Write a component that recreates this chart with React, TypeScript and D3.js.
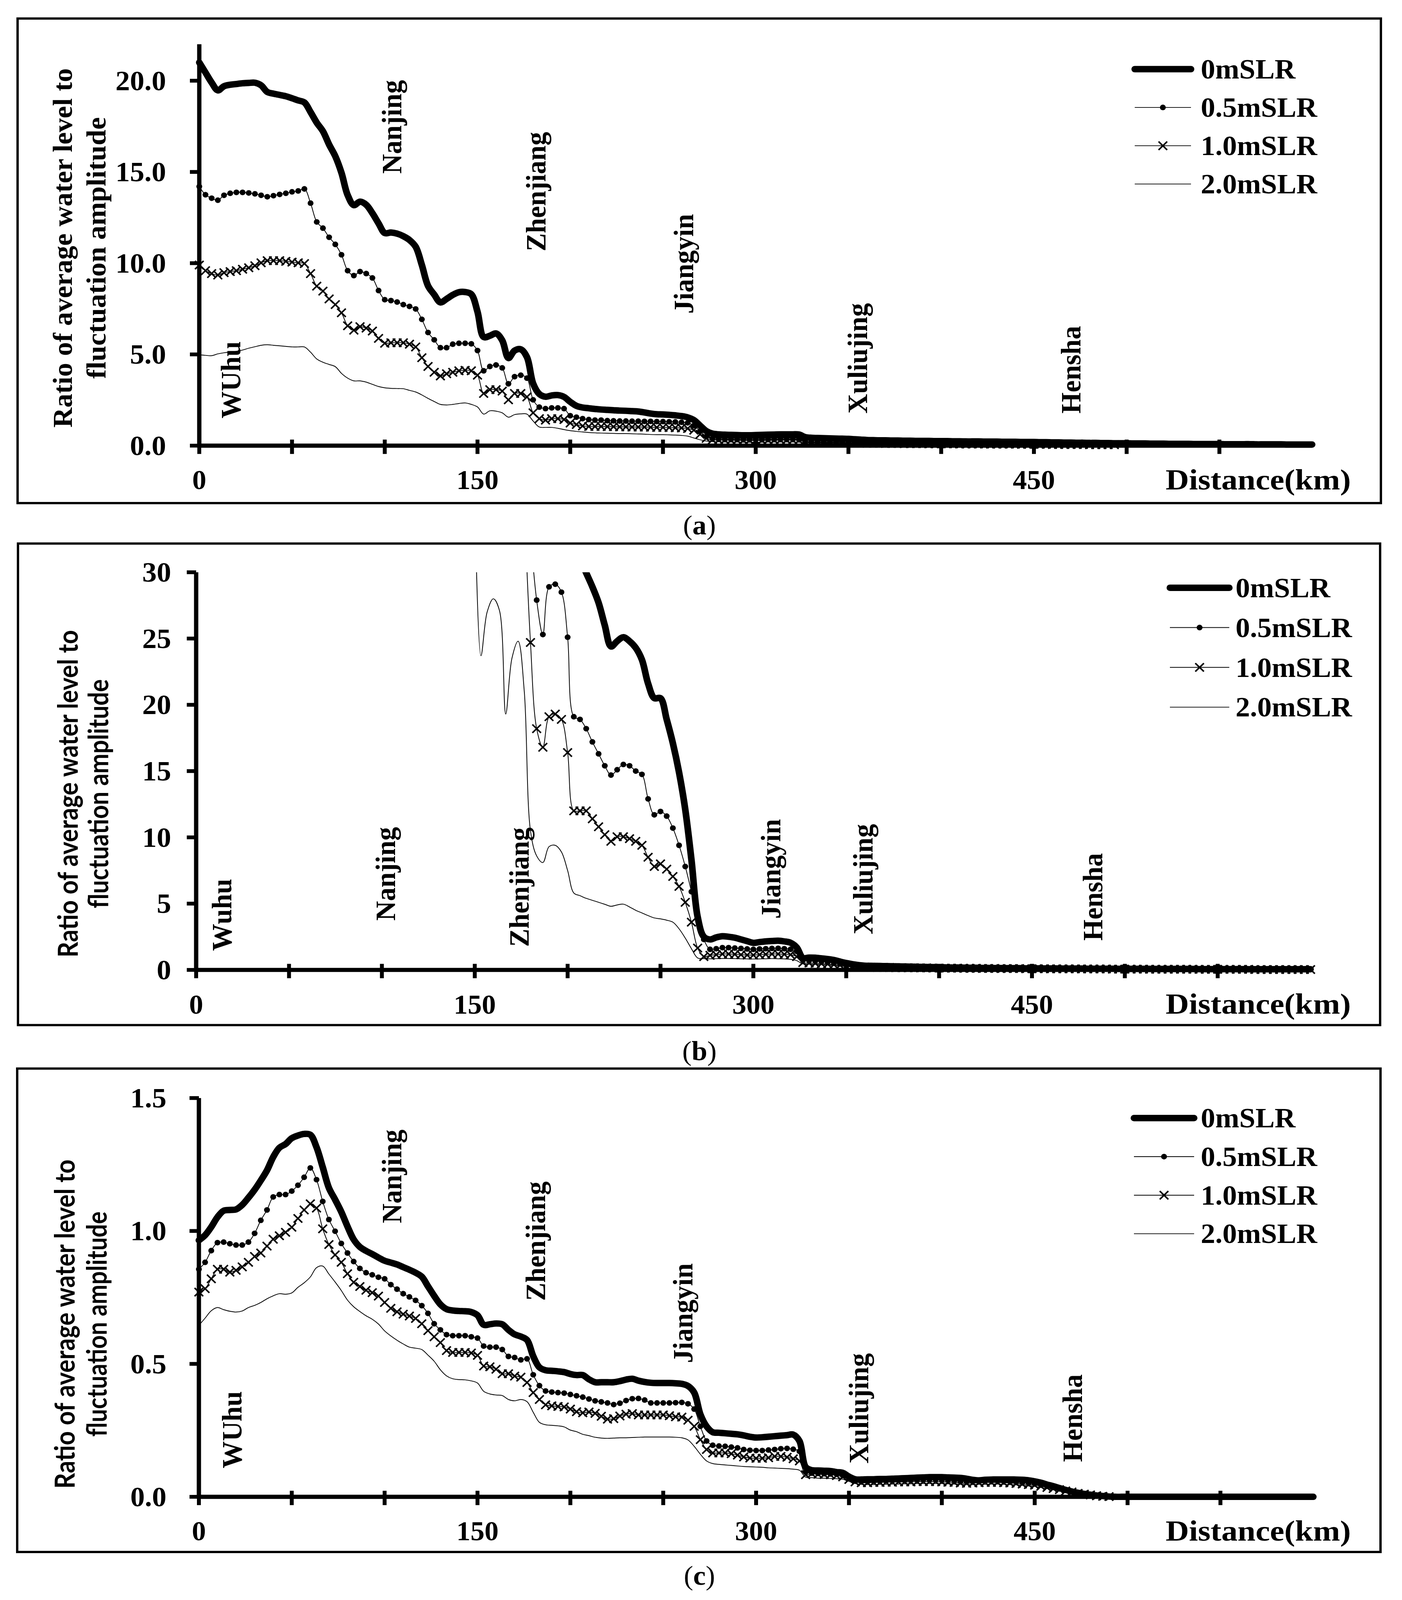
import React from 'react';
import * as d3 from 'd3';

// Distance grid along the river: one model point every 10/3 km, 0..600 km
const KM_STEP = 10 / 3;
const distances = d3.range(0, 181).map((i) => i * KM_STEP);

const seriesNames = ['0mSLR', '0.5mSLR', '1.0mSLR', '2.0mSLR'];
const xTickValues = [0, 50, 100, 150, 200, 250, 300, 350, 400, 450, 500, 550];
const xTickLabels = [0, 150, 300, 450];

// ---------- panel (a) ----------
const a0 = [
  21.0, 20.45, 19.9, 19.47, 19.7, 19.78, 19.82, 19.86, 19.88, 19.89,
  19.75, 19.38, 19.29, 19.22, 19.15, 19.04, 18.92, 18.81, 18.28, 17.7,
  17.23, 16.5, 15.86, 14.95, 13.73, 13.18, 13.37, 13.2, 12.74, 12.18,
  11.65, 11.68, 11.62, 11.48, 11.27, 10.9, 9.9, 8.76, 8.28, 7.85,
  8.04, 8.26, 8.41, 8.42, 8.3, 7.34, 5.95, 6.02, 6.15, 5.77,
  4.8, 5.21, 5.28, 4.85, 3.4, 2.83, 2.68, 2.75, 2.77, 2.67,
  2.4, 2.18, 2.09, 2.05, 2.01, 1.98, 1.96, 1.94, 1.92, 1.91,
  1.89, 1.87, 1.82, 1.76, 1.72, 1.71, 1.69, 1.66, 1.62, 1.55,
  1.4, 1.1, 0.8, 0.66, 0.62, 0.6, 0.59, 0.58, 0.57, 0.57,
  0.58, 0.59, 0.6, 0.61, 0.62, 0.62, 0.62, 0.61, 0.47, 0.43,
  0.42, 0.41, 0.4, 0.39, 0.38, 0.37, 0.35, 0.33, 0.31, 0.3,
  0.29, 0.29, 0.28, 0.28, 0.27, 0.27, 0.26, 0.26, 0.26, 0.25,
  0.25, 0.25, 0.24, 0.24, 0.23, 0.23, 0.23, 0.22, 0.22, 0.22,
  0.21, 0.21, 0.21, 0.2, 0.2, 0.2, 0.19, 0.19, 0.18, 0.18,
  0.17, 0.17, 0.16, 0.16, 0.15, 0.15, 0.14, 0.14, 0.13, 0.13,
  0.13, 0.12, 0.12, 0.12, 0.11, 0.11, 0.11, 0.1, 0.1, 0.1,
  0.1, 0.09, 0.09, 0.09, 0.09, 0.09, 0.08, 0.08, 0.08, 0.08,
  0.08, 0.07, 0.07, 0.07, 0.07, 0.07, 0.06, 0.06, 0.06, 0.06, 0.06,
];
const a05 = [
  14.2, 13.75, 13.56, 13.45, 13.72, 13.83, 13.88, 13.88, 13.85, 13.8,
  13.72, 13.64, 13.7, 13.77, 13.83, 13.91, 13.96, 14.07, 13.29, 12.26,
  11.92, 11.42, 11.03, 10.46, 9.59, 9.32, 9.54, 9.43, 9.19, 8.5,
  8.0, 7.95, 7.87, 7.73, 7.63, 7.49, 6.92, 6.2, 5.8, 5.37,
  5.37, 5.56, 5.61, 5.61, 5.58, 5.21, 4.1, 4.34, 4.42, 4.26,
  3.39, 3.78, 3.86, 3.7, 2.51, 2.11, 2.03, 2.07, 2.07, 2.03,
  1.64, 1.56, 1.48, 1.43, 1.4, 1.4, 1.37, 1.36, 1.35, 1.35,
  1.34, 1.34, 1.33, 1.33, 1.32, 1.32, 1.31, 1.3, 1.28, 1.25,
  1.1, 0.8, 0.5, 0.38, 0.36, 0.35, 0.35, 0.34, 0.34, 0.33,
  0.33, 0.33, 0.34, 0.34, 0.35, 0.35, 0.35, 0.34, 0.25, 0.21,
  0.2, 0.2, 0.19, 0.19, 0.18, 0.17, 0.16, 0.15, 0.15, 0.14,
  0.14, 0.14, 0.13, 0.13, 0.13, 0.12, 0.12, 0.12, 0.12, 0.11,
  0.11, 0.11, 0.11, 0.1, 0.1, 0.1, 0.1, 0.1, 0.09, 0.09,
  0.09, 0.09, 0.09, 0.08, 0.08, 0.08, 0.08, 0.08, 0.07, 0.07,
  0.07, 0.07, 0.07, 0.07, 0.06, 0.06, 0.06, 0.06, 0.06,
];
const a10 = [
  9.9, 9.59, 9.43, 9.35, 9.48, 9.54, 9.59, 9.67, 9.75, 9.86,
  10.02, 10.14, 10.14, 10.14, 10.1, 10.06, 10.02, 9.98, 9.43, 8.74,
  8.47, 8.04, 7.73, 7.28, 6.57, 6.33, 6.52, 6.44, 6.28, 5.88,
  5.61, 5.64, 5.64, 5.64, 5.56, 5.41, 4.82, 4.34, 4.02, 3.82,
  3.94, 4.02, 4.1, 4.13, 4.1, 3.86, 2.86, 3.07, 3.07, 2.99,
  2.51, 2.86, 2.86, 2.67, 1.8, 1.48, 1.4, 1.48, 1.48, 1.43,
  1.24, 1.16, 1.08, 1.05, 1.05, 1.05, 1.04, 1.04, 1.03, 1.03,
  1.02, 1.02, 1.02, 1.01, 1.0, 1.0, 0.99, 0.98, 0.97, 0.94,
  0.85, 0.62, 0.4, 0.32, 0.3, 0.3, 0.29, 0.29, 0.28, 0.28,
  0.28, 0.28, 0.29, 0.29, 0.3, 0.3, 0.3, 0.29, 0.2, 0.18,
  0.17, 0.17, 0.16, 0.16, 0.15, 0.15, 0.14, 0.14, 0.13, 0.13,
  0.13, 0.12, 0.12, 0.12, 0.11, 0.11, 0.11, 0.11, 0.1, 0.1,
  0.1, 0.1, 0.1, 0.09, 0.09, 0.09, 0.09, 0.09, 0.08, 0.08,
  0.08, 0.08, 0.08, 0.07, 0.07, 0.07, 0.07, 0.07, 0.06, 0.06,
  0.06, 0.06, 0.06, 0.06, 0.05, 0.05, 0.05, 0.05, 0.05,
];
const a20 = [
  4.98, 4.95, 4.93, 5.03, 5.09, 5.13, 5.17, 5.24, 5.34, 5.42,
  5.5, 5.53, 5.5, 5.47, 5.44, 5.41, 5.41, 5.41, 5.12, 4.75,
  4.57, 4.45, 4.33, 3.96, 3.7, 3.55, 3.55, 3.48, 3.36, 3.24,
  3.17, 3.14, 3.13, 3.12, 3.03, 2.94, 2.78, 2.59, 2.42, 2.26,
  2.23, 2.26, 2.31, 2.34, 2.26, 2.12, 1.73, 1.91, 1.89, 1.8,
  1.56, 1.7, 1.74, 1.73, 1.35, 1.02, 1.0, 1.0, 0.95, 0.88,
  0.82, 0.78, 0.75, 0.72, 0.7, 0.69, 0.68, 0.67, 0.66, 0.66,
  0.65, 0.64, 0.63, 0.61, 0.6, 0.6, 0.59, 0.58, 0.56, 0.52,
  0.42, 0.32, 0.25, 0.22, 0.21, 0.2, 0.2, 0.2, 0.19, 0.19,
  0.19, 0.19, 0.2, 0.2, 0.2, 0.2, 0.2, 0.19, 0.15, 0.13,
  0.13, 0.13, 0.12, 0.12, 0.12, 0.12, 0.11, 0.11, 0.11, 0.11,
  0.11, 0.1, 0.1, 0.1, 0.1, 0.1, 0.09, 0.09, 0.09, 0.09,
  0.09, 0.08, 0.08, 0.08, 0.08, 0.08, 0.07, 0.07, 0.07, 0.07,
  0.07, 0.06, 0.06, 0.06, 0.06, 0.06, 0.05, 0.05, 0.05, 0.05,
  0.05, 0.05, 0.04, 0.04, 0.04, 0.04, 0.04, 0.04, 0.04,
];

// ---------- panel (b) ----------  (values above 30 leave the plot at the top)
const b0From = 62;
const b0 = [
  31.0, 29.95, 28.9, 27.7, 26.0, 24.4, 24.8, 25.1,
  24.8, 24.3, 23.4, 21.6, 20.5, 20.5, 18.9, 17.1, 14.9, 12.1,
  8.3, 4.0, 2.5, 2.3, 2.45, 2.54, 2.5, 2.43, 2.3, 2.17,
  2.04, 2.1, 2.15, 2.18, 2.2, 2.15, 2.05, 1.7, 0.9, 0.93,
  0.92, 0.87, 0.82, 0.75, 0.63, 0.52, 0.43, 0.36, 0.32, 0.31,
  0.3, 0.29, 0.28, 0.27, 0.26, 0.25, 0.24, 0.23, 0.22, 0.21,
  0.2, 0.19, 0.18, 0.18, 0.17, 0.16, 0.16, 0.15, 0.15, 0.14,
  0.14, 0.13, 0.13, 0.13, 0.12, 0.12, 0.12, 0.11, 0.11, 0.11,
  0.1, 0.1, 0.1, 0.1, 0.09, 0.09, 0.09, 0.09, 0.09, 0.08,
  0.08, 0.08, 0.08, 0.08, 0.08, 0.07, 0.07, 0.07, 0.07, 0.07,
  0.07, 0.07, 0.06, 0.06, 0.06, 0.06, 0.06, 0.06, 0.06, 0.06,
  0.05, 0.05, 0.05, 0.05, 0.05, 0.05, 0.05, 0.05, 0.05, 0.05, 0.05,
];
const b05From = 54;
const b05 = [
  33.0, 27.9, 25.3, 28.9, 29.1, 28.5,
  25.1, 19.1, 18.9, 18.2, 17.2, 16.3, 15.4, 14.7, 15.1, 15.5,
  15.4, 15.0, 14.75, 12.9, 11.7, 11.95, 11.6, 10.7, 9.4, 7.8,
  5.9, 3.9, 2.3, 1.55, 1.6, 1.68, 1.68, 1.65, 1.62, 1.58,
  1.55, 1.58, 1.6, 1.62, 1.63, 1.6, 1.55, 1.4, 0.72, 0.7,
  0.68, 0.63, 0.58, 0.53, 0.46, 0.38, 0.32, 0.28, 0.26, 0.25,
  0.24, 0.23, 0.22, 0.21, 0.2, 0.19, 0.19, 0.18, 0.17, 0.17,
  0.16, 0.16, 0.15, 0.15, 0.14, 0.14, 0.13, 0.13, 0.13, 0.12,
  0.12, 0.12, 0.11, 0.11, 0.11, 0.1, 0.1, 0.1, 0.1, 0.09,
  0.09, 0.09, 0.09, 0.08, 0.08, 0.08, 0.08, 0.08, 0.07, 0.07,
  0.07, 0.07, 0.07, 0.07, 0.06, 0.06, 0.06, 0.06, 0.06, 0.06,
  0.06, 0.05, 0.05, 0.05, 0.05, 0.05, 0.05, 0.05, 0.05, 0.05,
  0.04, 0.04, 0.04, 0.04, 0.04, 0.04, 0.04, 0.04, 0.04, 0.04, 0.04,
];
const b10From = 53;
const b10 = [
  35.0, 24.7, 18.2, 16.8, 19.1, 19.3, 18.9,
  16.4, 12.0, 12.0, 12.0, 11.4, 10.8, 10.2, 9.7, 10.05, 10.05,
  9.9, 9.7, 9.4, 8.5, 7.8, 8.0, 7.6, 7.05, 6.3, 5.1,
  3.6, 1.65, 1.0, 1.1, 1.15, 1.2, 1.2, 1.18, 1.15, 1.12,
  1.12, 1.15, 1.18, 1.2, 1.2, 1.18, 1.15, 1.0, 0.55, 0.52,
  0.5, 0.47, 0.44, 0.4, 0.35, 0.3, 0.25, 0.22, 0.21, 0.2,
  0.19, 0.19, 0.18, 0.17, 0.17, 0.16, 0.16, 0.15, 0.15, 0.14,
  0.14, 0.13, 0.13, 0.13, 0.12, 0.12, 0.12, 0.11, 0.11, 0.11,
  0.1, 0.1, 0.1, 0.1, 0.09, 0.09, 0.09, 0.09, 0.08, 0.08,
  0.08, 0.08, 0.08, 0.07, 0.07, 0.07, 0.07, 0.07, 0.06, 0.06,
  0.06, 0.06, 0.06, 0.06, 0.05, 0.05, 0.05, 0.05, 0.05, 0.05,
  0.05, 0.05, 0.04, 0.04, 0.04, 0.04, 0.04, 0.04, 0.04, 0.04,
  0.04, 0.03, 0.03, 0.03, 0.03, 0.03, 0.03, 0.03, 0.03, 0.03, 0.03,
];
const b20From = 45;
const b20 = [
  36.0, 23.7, 27.0, 28.0, 27.1,
  19.3, 23.5, 24.8, 21.0, 10.5, 8.6, 8.1, 9.3, 9.4, 8.9,
  7.5, 5.8, 5.6, 5.4, 5.25, 5.1, 4.95, 4.8, 4.9, 4.96,
  4.75, 4.5, 4.3, 4.1, 3.92, 3.85, 3.75, 3.6, 3.1, 2.4,
  1.6, 0.9, 0.85, 0.84, 0.85, 0.86, 0.86, 0.85, 0.84, 0.83,
  0.82, 0.83, 0.84, 0.85, 0.84, 0.83, 0.8, 0.7, 0.45, 0.43,
  0.42, 0.4, 0.37, 0.33, 0.29, 0.25, 0.23, 0.22, 0.21, 0.2,
  0.19, 0.18, 0.18, 0.17, 0.16, 0.16, 0.15, 0.15, 0.14, 0.14,
  0.13, 0.13, 0.12, 0.12, 0.12, 0.11, 0.11, 0.11, 0.1, 0.1,
  0.1, 0.09, 0.09, 0.09, 0.09, 0.08, 0.08, 0.08, 0.08, 0.07,
  0.07, 0.07, 0.07, 0.07, 0.06, 0.06, 0.06, 0.06, 0.06, 0.05,
  0.05, 0.05, 0.05, 0.05, 0.05, 0.05, 0.04, 0.04, 0.04, 0.04,
  0.04, 0.04, 0.04, 0.04, 0.04, 0.03, 0.03, 0.03, 0.03, 0.03,
  0.03, 0.03, 0.03, 0.03, 0.03, 0.03, 0.03, 0.03, 0.03, 0.03, 0.03,
];

// ---------- panel (c) ----------
const c0 = [
  0.965, 0.984, 1.015, 1.052, 1.076, 1.079, 1.081, 1.098, 1.125, 1.155,
  1.19, 1.228, 1.278, 1.313, 1.327, 1.349, 1.359, 1.365, 1.362, 1.315,
  1.24, 1.162, 1.118, 1.072, 1.017, 0.968, 0.94, 0.925, 0.913, 0.9,
  0.888, 0.881, 0.874, 0.864, 0.854, 0.843, 0.828, 0.792, 0.756, 0.724,
  0.706, 0.701, 0.699, 0.698, 0.695, 0.683, 0.647, 0.649, 0.652, 0.649,
  0.628, 0.611, 0.603, 0.59, 0.529, 0.487, 0.476, 0.474, 0.472, 0.469,
  0.462, 0.458, 0.458, 0.442, 0.431, 0.431, 0.431, 0.431, 0.435, 0.441,
  0.444, 0.437, 0.432, 0.429, 0.428, 0.428, 0.428, 0.427, 0.425, 0.417,
  0.392, 0.31, 0.265, 0.243, 0.241, 0.239, 0.237, 0.235, 0.231, 0.226,
  0.223, 0.224, 0.226, 0.228, 0.23, 0.232, 0.234, 0.21, 0.112, 0.1,
  0.099, 0.098, 0.097, 0.093, 0.09, 0.076, 0.066, 0.065, 0.066, 0.066,
  0.067, 0.067, 0.068, 0.069, 0.07, 0.071, 0.072, 0.073, 0.074, 0.074,
  0.074, 0.073, 0.072, 0.071, 0.068, 0.064, 0.062, 0.064, 0.065, 0.065,
  0.065, 0.065, 0.065, 0.064, 0.062, 0.058, 0.053, 0.046, 0.04, 0.033,
  0.026, 0.02, 0.015, 0.011, 0.008, 0.005, 0.003, 0.001, 0, 0,
  0, 0, 0, 0, 0, 0, 0, 0, 0, 0,
  0, 0, 0, 0, 0, 0, 0, 0, 0, 0,
  0, 0, 0, 0, 0, 0, 0, 0, 0, 0, 0,
];
const c05 = [
  0.856, 0.882, 0.926, 0.956, 0.958, 0.952, 0.947, 0.947, 0.958, 0.991,
  1.04, 1.079, 1.128, 1.137, 1.137, 1.15, 1.172, 1.202, 1.237, 1.193,
  1.111, 1.043, 0.999, 0.953, 0.917, 0.885, 0.859, 0.843, 0.835, 0.826,
  0.82, 0.798, 0.781, 0.764, 0.752, 0.739, 0.719, 0.69, 0.651, 0.628,
  0.61, 0.606, 0.606, 0.606, 0.602, 0.597, 0.567, 0.563, 0.563, 0.554,
  0.528, 0.524, 0.515, 0.519, 0.459, 0.418, 0.398, 0.394, 0.392, 0.39,
  0.385, 0.38, 0.375, 0.368, 0.361, 0.357, 0.353, 0.347, 0.352, 0.362,
  0.369, 0.37, 0.364, 0.353, 0.353, 0.353, 0.353, 0.354, 0.355, 0.35,
  0.33, 0.265, 0.21, 0.194, 0.191, 0.19, 0.187, 0.184, 0.178, 0.175,
  0.174, 0.174, 0.176, 0.178, 0.181, 0.182, 0.179, 0.171, 0.093, 0.089,
  0.088, 0.087, 0.086, 0.085, 0.08, 0.07, 0.06, 0.058, 0.058, 0.059,
  0.06, 0.06, 0.061, 0.062, 0.062, 0.063, 0.063, 0.064, 0.064, 0.064,
  0.063, 0.062, 0.06, 0.058, 0.057, 0.058, 0.059, 0.06, 0.06, 0.06,
  0.059, 0.058, 0.056, 0.054, 0.052, 0.05, 0.045, 0.04, 0.035, 0.03,
  0.025, 0.02, 0.015, 0.011, 0.008, 0.005, 0.003, 0.001,
];
const c10 = [
  0.77, 0.783, 0.82, 0.856, 0.856, 0.845, 0.852, 0.865, 0.882, 0.904,
  0.917, 0.943, 0.969, 0.982, 0.995, 1.014, 1.047, 1.079, 1.102, 1.086,
  1.008, 0.949, 0.91, 0.882, 0.839, 0.807, 0.791, 0.777, 0.768, 0.755,
  0.731, 0.709, 0.696, 0.687, 0.68, 0.671, 0.651, 0.625, 0.602, 0.58,
  0.55, 0.543, 0.543, 0.543, 0.541, 0.532, 0.492, 0.489, 0.48, 0.463,
  0.463, 0.454, 0.45, 0.43, 0.392, 0.366, 0.346, 0.342, 0.34, 0.338,
  0.33, 0.32, 0.316, 0.319, 0.314, 0.303, 0.292, 0.294, 0.304, 0.311,
  0.313, 0.308, 0.308, 0.308, 0.308, 0.308, 0.305, 0.301, 0.3, 0.288,
  0.265, 0.215, 0.178, 0.165, 0.165, 0.165, 0.162, 0.157, 0.15, 0.146,
  0.145, 0.145, 0.147, 0.152, 0.152, 0.149, 0.143, 0.135, 0.083, 0.087,
  0.085, 0.084, 0.083, 0.08, 0.075, 0.065, 0.056, 0.053, 0.053, 0.054,
  0.054, 0.055, 0.055, 0.056, 0.056, 0.056, 0.057, 0.057, 0.057, 0.057,
  0.056, 0.055, 0.054, 0.052, 0.051, 0.052, 0.053, 0.054, 0.054, 0.054,
  0.053, 0.052, 0.05, 0.048, 0.046, 0.044, 0.04, 0.035, 0.031, 0.027,
  0.022, 0.018, 0.013, 0.01, 0.007, 0.004, 0.002, 0.001,
];
const c20 = [
  0.645, 0.672, 0.7, 0.712, 0.704, 0.698, 0.695, 0.699, 0.712, 0.72,
  0.731, 0.745, 0.756, 0.764, 0.762, 0.767, 0.788, 0.805, 0.827, 0.862,
  0.868, 0.838, 0.808, 0.776, 0.74, 0.715, 0.697, 0.681, 0.668, 0.65,
  0.624, 0.605, 0.589, 0.575, 0.563, 0.559, 0.554, 0.533, 0.51, 0.478,
  0.455, 0.444, 0.441, 0.44, 0.436, 0.428, 0.397, 0.387, 0.383, 0.381,
  0.366, 0.361, 0.366, 0.358, 0.318, 0.28, 0.271, 0.269, 0.267, 0.263,
  0.251, 0.245, 0.235, 0.23, 0.224, 0.221, 0.22, 0.221, 0.222, 0.222,
  0.223, 0.224, 0.225, 0.225, 0.225, 0.225, 0.225, 0.224, 0.222, 0.214,
  0.19, 0.16, 0.135, 0.125, 0.122, 0.12, 0.118, 0.116, 0.114, 0.113,
  0.112, 0.111, 0.109, 0.108, 0.107, 0.106, 0.104, 0.1, 0.074, 0.072,
  0.07, 0.07, 0.069, 0.068, 0.066, 0.058, 0.05, 0.047, 0.046, 0.046,
  0.047, 0.047, 0.048, 0.048, 0.049, 0.049, 0.05, 0.05, 0.05, 0.05,
  0.05, 0.049, 0.048, 0.047, 0.046, 0.046, 0.047, 0.047, 0.048, 0.048,
  0.047, 0.046, 0.045, 0.043, 0.041, 0.039, 0.035, 0.031, 0.027, 0.023,
  0.019, 0.015, 0.011, 0.008, 0.005, 0.003, 0.001, 0,
];

// station labels: [name, km, ratio where the label starts]
const citiesA: [string, number, number][] = [
  ['WUhu', 17, 1.49], ['Nanjing', 103.8, 14.9], ['Zhenjiang', 181.6, 10.65],
  ['Jiangyin', 261.2, 7.23], ['Xuliujing', 354.8, 1.76], ['Hensha', 469.9, 1.76],
];
const citiesB: [string, number, number][] = [
  ['Wuhu', 13.9, 1.43], ['Nanjing', 102, 3.71], ['Zhenjiang', 173.8, 1.74],
  ['Jiangyin', 309.3, 3.85], ['Xuliujing', 359.1, 2.68], ['Hensha', 482.8, 2.2],
];
const citiesC: [string, number, number][] = [
  ['WUhu', 17.7, 0.107], ['Nanjing', 103.9, 1.029], ['Zhenjiang', 181.2, 0.737],
  ['Jiangyin', 260.5, 0.503], ['Xuliujing', 355.3, 0.125], ['Hensha', 470.3, 0.131],
];

const SERIF = "'Liberation Serif', 'Times New Roman', serif";
const SANS = "Lato, 'Open Sans', 'DejaVu Sans', sans-serif";

const panels = [
  {
    key: 'a', box: [45, 49, 3534, 1331], x0: 510, x1: 3358, yBottom: 1179, yTop: 117, yMax: 22,
    yTicks: [0, 5, 10, 15, 20], fmt: (d: number) => d.toFixed(1), yLabelRight: 425,
    titleFont: SERIF, titleX: [161, 247], titleY: 656, titleLen: [951, 692],
    legend: { x1: 2904, x2: 3048, tx: 3073, y: 183, step: 101.3 }, captionY: 1389,
    cities: citiesA,
    series: [{ from: 0, values: a0 }, { from: 0, values: a05 }, { from: 0, values: a10 }, { from: 0, values: a20 }],
  },
  {
    key: 'b', box: [46, 1438, 3532, 2712], x0: 502, x1: 3354, yBottom: 2566, yTop: 1514, yMax: 30,
    yTicks: [0, 5, 10, 15, 20, 25, 30], fmt: (d: number) => d.toFixed(0), yLabelRight: 438,
    titleFont: SANS, titleX: [172, 250], titleY: 2100, titleLen: [866, 606],
    legend: { x1: 2994, x2: 3146, tx: 3162, y: 1555, step: 105.3 }, captionY: 2780,
    cities: citiesB,
    series: [{ from: b0From, values: b0 }, { from: b05From, values: b05 }, { from: b10From, values: b10 }, { from: b20From, values: b20 }],
  },
  {
    key: 'c', box: [44, 2827, 3533, 4106], x0: 509, x1: 3361, yBottom: 3960, yTop: 2905, yMax: 1.5,
    yTicks: [0, 0.5, 1, 1.5], fmt: (d: number) => d.toFixed(1), yLabelRight: 426,
    titleFont: SANS, titleX: [164, 246], titleY: 3503, titleLen: [871, 596],
    legend: { x1: 2902, x2: 3056, tx: 3073, y: 2958, step: 102 }, captionY: 4168,
    cities: citiesC,
    series: [{ from: 0, values: c0 }, { from: 0, values: c05 }, { from: 0, values: c10 }, { from: 0, values: c20 }],
  },
];

const seriesStyle = [
  { width: 17, marker: null },
  { width: 2, marker: 'dot' },
  { width: 2, marker: 'cross' },
  { width: 2, marker: null },
];

const Marker = ({ kind, x, y }: { kind: string | null; x: number; y: number }) => {
  if (kind === 'dot') return <circle cx={x} cy={y} r={7.5} fill="#000" />;
  if (kind === 'cross')
    return (
      <path
        d={`M${x - 11},${y - 11}L${x + 11},${y + 11}M${x - 11},${y + 11}L${x + 11},${y - 11}`}
        stroke="#000"
        strokeWidth={4}
        fill="none"
      />
    );
  return null;
};

const Panel = ({ p }: { p: (typeof panels)[number] }) => {
  const x = d3.scaleLinear().domain([0, 600]).range([p.x0, p.x1]);
  const y = d3.scaleLinear().domain([0, p.yMax]).range([p.yBottom, p.yTop]);
  const line = d3
    .line<[number, number]>()
    .x((d) => x(d[0]))
    .y((d) => y(d[1]))
    .curve(d3.curveCatmullRom.alpha(0.5));
  const clipId = `clip-${p.key}`;
  const [bx0, by0, bx1, by1] = p.box;

  return (
    <g>
      <rect x={bx0} y={by0} width={bx1 - bx0} height={by1 - by0} fill="none" stroke="#000" strokeWidth={6} />
      <clipPath id={clipId}>
        <rect x={p.x0 - 20} y={p.yTop} width={p.x1 - p.x0 + 40} height={p.yBottom - p.yTop + 30} />
      </clipPath>

      {/* y axis title */}
      {['Ratio of average water level to', 'fluctuation amplitude'].map((t, i) => (
        <text
          key={t}
          transform={`translate(${p.titleX[i]},${p.titleY}) rotate(-90)`}
          textAnchor="middle"
          dominantBaseline="central"
          fontFamily={p.titleFont}
          fontWeight="bold"
          fontSize={70}
          textLength={p.titleLen[i]}
          lengthAdjust="spacingAndGlyphs"
        >
          {t}
        </text>
      ))}

      {/* station labels */}
      {p.cities.map(([name, km, v]) => (
        <text
          key={name}
          transform={`translate(${x(km)},${y(v)}) rotate(-90)`}
          dominantBaseline="central"
          fontFamily={SERIF}
          fontWeight="bold"
          fontSize={72}
        >
          {name}
        </text>
      ))}

      {/* axes */}
      <line x1={p.x0} x2={p.x0} y1={p.yTop} y2={p.yBottom + 5} stroke="#000" strokeWidth={11} />
      <line x1={p.x0 - 5} x2={p.x1} y1={p.yBottom} y2={p.yBottom} stroke="#000" strokeWidth={11} />
      {p.yTicks.map((t) => (
        <g key={t}>
          <line x1={p.x0 - 24} x2={p.x0} y1={y(t)} y2={y(t)} stroke="#000" strokeWidth={10} />
          <text
            x={p.yLabelRight}
            y={y(t)}
            textAnchor="end"
            dominantBaseline="central"
            fontFamily={SERIF}
            fontWeight="bold"
            fontSize={74}
          >
            {p.fmt(t)}
          </text>
        </g>
      ))}
      {xTickValues.map((t) => (
        <line key={t} x1={x(t)} x2={x(t)} y1={p.yBottom - 16} y2={p.yBottom + 22} stroke="#000" strokeWidth={10} />
      ))}
      {xTickLabels.map((t) => (
        <text
          key={t}
          x={x(t)}
          y={p.yBottom + 91}
          textAnchor="middle"
          dominantBaseline="central"
          fontFamily={SERIF}
          fontWeight="bold"
          fontSize={72}
        >
          {t}
        </text>
      ))}
      <text
        x={3220}
        y={p.yBottom + 90}
        textAnchor="middle"
        dominantBaseline="central"
        fontFamily={SERIF}
        fontWeight="bold"
        fontSize={76}
        textLength={474}
        lengthAdjust="spacingAndGlyphs"
      >
        Distance(km)
      </text>

      {/* series */}
      <g clipPath={`url(#${clipId})`}>
        {p.series.map((s, si) => {
          const pts: [number, number][] = s.values.map((v, i) => [distances[s.from + i], v]);
          const st = seriesStyle[si];
          return (
            <g key={si}>
              <path
                d={line(pts) || ''}
                fill="none"
                stroke="#000"
                strokeWidth={st.width}
                strokeLinejoin="round"
                strokeLinecap="round"
              />
              {st.marker &&
                pts.map((d, i) => <Marker key={i} kind={st.marker} x={x(d[0])} y={y(d[1])} />)}
            </g>
          );
        })}
      </g>

      {/* legend */}
      {seriesNames.map((name, i) => {
        const ly = p.legend.y + i * p.legend.step;
        const st = seriesStyle[i];
        return (
          <g key={name}>
            <line
              x1={p.legend.x1}
              x2={p.legend.x2}
              y1={ly}
              y2={ly}
              stroke="#000"
              strokeWidth={st.width}
              strokeLinecap={i === 0 ? 'round' : 'butt'}
            />
            <Marker kind={st.marker} x={(p.legend.x1 + p.legend.x2) / 2} y={ly} />
            <text
              x={p.legend.tx}
              y={ly}
              dominantBaseline="central"
              fontFamily={SERIF}
              fontWeight="bold"
              fontSize={74}
            >
              {name}
            </text>
          </g>
        );
      })}

      {/* caption */}
      <text
        x={1790}
        y={p.captionY}
        textAnchor="middle"
        dominantBaseline="central"
        fontFamily={SERIF}
        fontSize={72}
      >
        <tspan>(</tspan>
        <tspan fontWeight="bold">{p.key}</tspan>
        <tspan>)</tspan>
      </text>
    </g>
  );
};

export default function App() {
  // the figure is laid out on a 3588 x 4233 canvas and stretched to the visible viewport
  return (
    <svg
      viewBox="0 0 3588 4233"
      preserveAspectRatio="none"
      style={{ position: 'fixed', left: 0, top: 0, width: '100vw', height: '100vh', background: '#fff' }}
    >
      <rect x={0} y={0} width={3588} height={4233} fill="#fff" />
      {panels.map((p) => (
        <Panel key={p.key} p={p} />
      ))}
    </svg>
  );
}
